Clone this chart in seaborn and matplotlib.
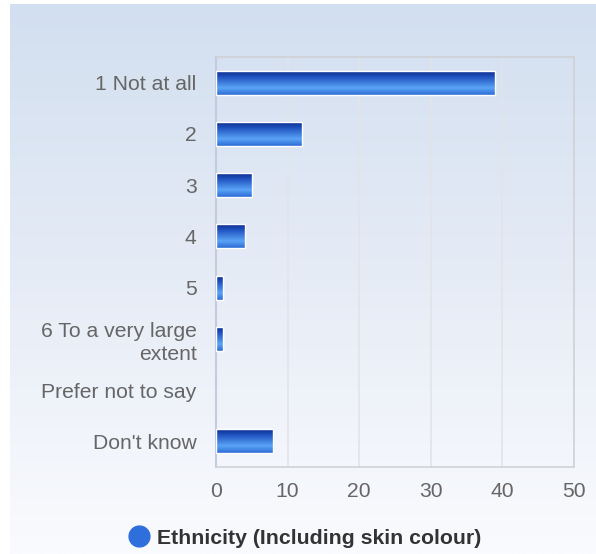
import numpy as np
import pandas as pd
import matplotlib
matplotlib.use("Agg")
import matplotlib.pyplot as plt
from matplotlib.colors import LinearSegmentedColormap
from matplotlib.lines import Line2D
import seaborn as sns

categories = ["1 Not at all", "2", "3", "4", "5", "6 To a very large\nextent",
              "Prefer not to say", "Don't know"]
values = [39, 12, 5, 4, 1, 1, 0, 8]
series_name = "Ethnicity (Including skin colour)"
x_ticks = [0, 10, 20, 30, 40, 50]

sns.set_theme(style="white")
plt.rcParams['font.family'] = ['Liberation Sans', 'DejaVu Sans']

W, H = 596, 554
fig = plt.figure(figsize=(W / 100, H / 100), dpi=100)
fig.patch.set_facecolor("white")

# background panel gradient
bg = fig.add_axes([10 / W, 0, (W - 10) / W, (H - 4) / H], zorder=-10)
bg_cmap = LinearSegmentedColormap.from_list("bg", ["#d2dff0", "#e6ecf6", "#fafbfe"])
bg.imshow(np.linspace(0, 1, 256).reshape(-1, 1), aspect="auto", cmap=bg_cmap,
          extent=[0, 1, 0, 1], origin="upper")
bg.set_axis_off()

ax = fig.add_axes([216 / W, 87 / H, 358 / W, 410 / H])
ax.set_facecolor("none")

df = pd.DataFrame({"category": categories, "value": values})
sns.barplot(data=df, x="value", y="category", orient="h", color="#2a6ad8",
            width=0.47, ax=ax, edgecolor="white", linewidth=1.0)

ax.set_xlim(0, 50)
ylim = ax.get_ylim()

bar_cmap = LinearSegmentedColormap.from_list(
    "bar", [(0.0, "#08278a"), (0.3, "#2458c4"), (0.72, "#5aa4f6"), (1.0, "#2c6cd6")])
grad = np.linspace(0, 1, 64).reshape(-1, 1)
for p in ax.patches:
    w = p.get_width()
    if w <= 0:
        p.set_visible(False)
        continue
    x0, y0, h = p.get_x(), p.get_y(), p.get_height()
    im = ax.imshow(grad, aspect="auto", cmap=bar_cmap, origin="upper",
                   extent=[x0, x0 + w, y0 + h, y0], zorder=2, interpolation="bilinear")
    im.set_clip_path(p)
    p.set_facecolor("none")
    p.set_zorder(3)

ax.set_ylim(ylim)
ax.set_xlim(0, 50)
ax.set_xticks(x_ticks)
ax.set_xticklabels([str(t) for t in x_ticks])
ax.grid(axis="x", color="#e2e4e8", linewidth=1.2, zorder=0)
ax.set_axisbelow(True)
ax.set_xlabel("")
ax.set_ylabel("")
for s in ["top", "right", "bottom"]:
    ax.spines[s].set_color("#cfd2d6")
    ax.spines[s].set_linewidth(1.2)
ax.spines["left"].set_color("#c4cbdc")
ax.spines["left"].set_linewidth(1.5)
ax.tick_params(axis="both", length=0, labelsize=15.2, labelcolor="#666666")
ax.tick_params(axis="y", pad=14)
ax.tick_params(axis="x", pad=11)
for lab in ax.get_yticklabels():
    lab.set_horizontalalignment("right")
    lab.set_multialignment("right")
    lab.set_linespacing(1.25)

handle = Line2D([], [], marker="o", linestyle="none", markersize=15,
                markerfacecolor="#2f6fdc", markeredgecolor="#2f6fdc")
leg = fig.legend([handle], [series_name], loc="center", bbox_to_anchor=(304 / W, 16 / H),
                 frameon=False, handletextpad=0.25, handlelength=1.2,
                 prop={"size": 15.3, "weight": "bold"})
for t in leg.get_texts():
    t.set_color("#333333")

fig.savefig("out.png", dpi=100)
